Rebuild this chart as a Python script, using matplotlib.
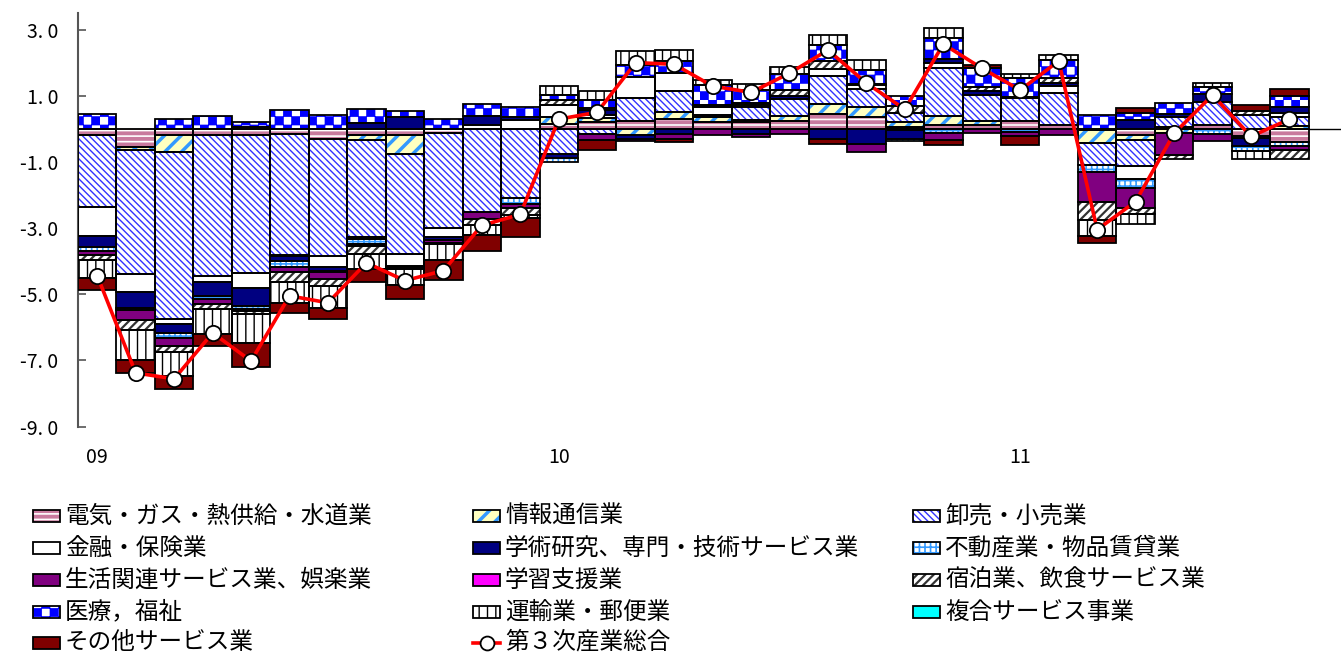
import numpy as np
import matplotlib
matplotlib.use("Agg")
import matplotlib.pyplot as plt
from matplotlib import hatch as mhatch
from matplotlib.path import Path
from matplotlib.patches import Rectangle
from matplotlib.lines import Line2D

plt.rcParams['font.family'] = ['Noto Sans CJK JP', 'DejaVu Sans']

# 2009-01 .. 2011-08, contributions (points)
months = np.arange(32)
xtick_pos = [0, 12, 24]
xtick_labels = ["09", "10", "11"]
ytick_vals = [3.0, 1.0, -1.0, -3.0, -5.0, -7.0, -9.0]

elec = [-0.18, -0.55, -0.20, -0.18, -0.18, -0.15, -0.30, -0.18, -0.20, -0.12, 0, 0,
        0.15, 0.22, 0.25, 0.30, 0.20, 0.22, 0.25, 0.45, 0.35, 0.05, 0.10, 0.10, 0.25, 0.10,
        -0.05, -0.20, 0.04, 0.10, -0.22, -0.40]
info = [0, -0.10, -0.50, 0, 0.06, 0, 0, -0.17, -0.55, 0, 0, 0,
        0.22, 0.10, -0.20, 0.20, 0.15, 0.05, 0.15, 0.30, 0.30, 0.15, 0.30, 0.15, 0, 0,
        -0.38, -0.13, -0.12, 0, 0, 0.07]
whole = [-2.19, -3.75, -5.05, -4.26, -4.18, -3.68, -3.55, -2.93, -3.03, -2.88, -2.52, -2.10,
         -0.75, -0.15, 0.69, 0.65, 0.07, 0.40, 0.50, 0.86, 0.56, 0.28, 1.45, 0.76, 0.68, 0.98,
         -0.65, -0.80, 0.32, 0.71, 0.42, 0.30]
fin = [-0.88, -0.53, -0.15, -0.18, -0.46, -0.03, -0.34, -0.05, -0.36, -0.28, 0.10, 0.27,
       0.35, 0.10, 0.63, 0.55, 0.25, 0.05, 0, 0.20, 0.10, -0.05, 0.15, 0, 0, 0.20,
       0, -0.40, 0, 0, -0.05, 0.12]
acad = [-0.33, -0.48, -0.26, -0.43, -0.53, -0.15, -0.10, 0.18, 0.35, -0.07, 0.30, 0.10,
        -0.13, 0.15, -0.10, -0.15, 0.05, -0.15, 0.10, -0.30, -0.45, -0.25, 0.10, 0.12, 0.03, 0.10,
        0, 0.26, 0.10, 0.24, -0.25, 0.18]
real = [-0.10, -0.08, -0.15, -0.10, -0.10, -0.18, -0.05, -0.15, -0.04, 0, 0, -0.18,
        -0.12, 0, 0, 0, 0, 0, 0, 0, 0, -0.08, -0.13, 0, -0.10, 0,
        -0.23, -0.25, 0, -0.15, -0.15, -0.12]
life = [-0.15, -0.28, -0.25, -0.15, -0.05, -0.14, -0.20, -0.05, -0.05, -0.10, -0.20, -0.12,
        0, -0.20, -0.08, -0.15, -0.20, -0.10, -0.17, 0, -0.24, 0, -0.20, -0.12, -0.12, -0.20,
        -0.91, -0.61, -0.68, -0.22, 0, -0.12]
edu = [0] * 32
hotel = [-0.15, -0.31, -0.20, -0.15, -0.10, -0.31, -0.20, -0.25, 0, -0.04, -0.20, -0.20,
         0.15, 0.07, 0, 0, 0, 0.05, 0.17, 0.25, 0.05, 0.20, 0, 0.13, 0, 0.16,
         -0.53, -0.20, -0.10, 0, 0.12, -0.26]
med = [0.44, 0, 0.29, 0.39, 0.14, 0.56, 0.43, 0.41, 0.20, 0.29, 0.36, 0.30,
       0.15, 0.24, 0.35, 0.35, 0.60, 0.40, 0.48, 0.47, 0.42, 0.30, 0.65, 0.58, 0.57, 0.55,
       0.42, 0.22, 0.32, 0.22, 0, 0.32]
trans = [-0.54, -0.91, -0.71, -0.76, -0.88, -0.63, -0.67, -0.46, -0.50, -0.48, -0.30, -0.10,
         0.27, 0.26, 0.42, 0.32, 0.15, 0.17, 0.22, 0.31, 0.29, 0, 0.29, 0, 0.12, 0.15,
         -0.50, -0.28, 0, 0.12, -0.25, 0]
comp = [0] * 32
other = [-0.35, -0.40, -0.40, -0.35, -0.71, -0.30, -0.33, -0.40, -0.41, -0.61, -0.46, -0.56,
         0, -0.29, 0, -0.10, 0, 0, 0, -0.15, 0, 0, -0.16, 0.10, -0.26, 0,
         -0.20, 0.16, 0, 0, 0.17, 0.20]
total = [-4.44, -7.38, -7.56, -6.17, -7.02, -5.05, -5.26, -4.05, -4.59, -4.29, -2.92, -2.59,
         0.29, 0.50, 2.00, 1.95, 1.29, 1.10, 1.68, 2.38, 1.38, 0.59, 2.56, 1.83, 1.17, 2.05,
         -3.05, -2.20, -0.14, 1.02, -0.23, 0.29]

names = ["電気・ガス・熱供給・水道業", "情報通信業", "卸売・小売業",
         "金融・保険業", "学術研究、専門・技術サービス業", "不動産業・物品賃貸業",
         "生活関連サービス業、娯楽業", "学習支援業", "宿泊業、飲食サービス業",
         "医療，福祉", "運輸業・郵便業", "複合サービス事業",
         "その他サービス業"]
total_name = "第３次産業総合"
series = [elec, info, whole, fin, acad, real, life, edu, hotel, med, trans, comp, other]

# (fond, hachure, couleur hachure, epaisseur hachure)
STYLES = [
    ("#c97a9e", "---", "white", 1.2),
    ("#ffffc0", "//", "#3399ff", 2.5),
    ("white", "\\\\\\\\\\", "#3333ff", 1.0),
    ("white", None, None, 1.0),
    ("#000080", None, None, 1.0),
    ("white", "+++", "#3399ff", 1.2),
    ("#800080", None, None, 1.0),
    ("#ff00ff", None, None, 1.0),
    ("white", "////", "#333333", 1.6),
    ("white", "**", "#0000ff", 0.5),
    ("white", "||", "black", 1.0),
    ("#00ffff", None, None, 1.0),
    ("#800000", None, None, 1.0),
]


class CheckerHatch(mhatch.HatchPatternBase):
    """'*' -> damier plein (a la place des etoiles)"""
    def __init__(self, hatch, density):
        self.n = hatch.count('*') * density
        self.num_vertices = 5 * ((self.n * self.n + 1) // 2)

    def set_vertices_and_codes(self, vertices, codes):
        step = 1.0 / self.n
        k = 0
        for i in range(self.n):
            for j in range(self.n):
                if (i + j) % 2:
                    continue
                x0, y0 = i * step, j * step
                vertices[k:k + 5] = [(x0, y0), (x0 + step, y0), (x0 + step, y0 + step),
                                     (x0, y0 + step), (x0, y0)]
                codes[k] = Path.MOVETO
                codes[k + 1:k + 4] = Path.LINETO
                codes[k + 4] = Path.CLOSEPOLY
                k += 5


mhatch._hatch_types = [t for t in mhatch._hatch_types if t is not mhatch.Stars] + [CheckerHatch]


def styled(patch, style):
    face, hatch, hcolor, hlw = style
    patch.set_facecolor(face)
    patch.set_edgecolor(hcolor if hcolor else face)
    patch.set_linewidth(0)
    if hatch:
        patch.set_hatch(hatch)
        if hasattr(patch, "set_hatch_linewidth"):
            patch.set_hatch_linewidth(hlw)


W, H = 1341, 660
fig = plt.figure(figsize=(W / 100, H / 100), dpi=100)
ax = fig.add_axes([78 / W, 1 - 426.5 / H, 1 - 78 / W, (426.5 - 13) / H])

pos_base = np.zeros(32)
neg_base = np.zeros(32)
for vals, style in zip(series, STYLES):
    v = np.array(vals, dtype=float)
    for mask, base in ((v > 0, pos_base), (v < 0, neg_base)):
        if not mask.any():
            continue
        x = months[mask]
        h = v[mask]
        b = base[mask]
        with plt.rc_context({"hatch.linewidth": style[3]}):
            bars = ax.bar(x, h, bottom=b, width=1.0, zorder=2)
        for p in bars:
            styled(p, style)
        ax.bar(x, h, bottom=b, width=1.0, fill=False, edgecolor="black",
               linewidth=1.3, zorder=3)
        base[mask] += h

ax.axhline(0, color="black", lw=1.0, zorder=1)
ax.plot(months, total, color="#ff0000", lw=2.6, marker="o", markersize=11,
        markerfacecolor="white", markeredgecolor="black", markeredgewidth=1.3, zorder=5)

ax.set_xlim(-0.5, 32.34)
ax.set_ylim(-9.0, 3.5)
for s in ("top", "right", "bottom"):
    ax.spines[s].set_visible(False)
ax.spines["left"].set_color("#555555")
ax.spines["left"].set_linewidth(1.5)
ax.set_yticks(ytick_vals)
ax.set_yticklabels([f"{v:.1f}".replace(".", ". ") for v in ytick_vals])
ax.tick_params(axis="y", direction="in", length=6, width=1.2, color="#555555",
               pad=14, labelsize=14)
ax.set_xticks(xtick_pos)
ax.set_xticklabels(xtick_labels)
ax.tick_params(axis="x", length=0, pad=15, labelsize=14)

# legende manuelle, 3 colonnes x 5 lignes (ordre ligne par ligne)
col_x = [33, 473, 913]
row_y = [516, 548, 580, 612, 642.5]
for i, (name, style) in enumerate(zip(names, STYLES)):
    r, c = divmod(i, 3)
    x0, yc = col_x[c], row_y[r]
    with plt.rc_context({"hatch.linewidth": style[3]}):
        rect = Rectangle((x0 / W, 1 - (yc + 6) / H), 27 / W, 12 / H, transform=fig.transFigure)
    styled(rect, style)
    fig.add_artist(rect)
    fig.add_artist(Rectangle((x0 / W, 1 - (yc + 6) / H), 27 / W, 12 / H,
                             transform=fig.transFigure, fill=False, edgecolor="black", lw=1.3))
    fig.text((x0 + 32) / W, 1 - yc / H, name, fontsize=17, va="center", ha="left")

r, c = divmod(len(names), 3)
x0, yc = col_x[c], row_y[r]
fig.add_artist(Line2D([x0 / W, (x0 + 27) / W], [1 - yc / H] * 2, transform=fig.transFigure,
                      color="#ff0000", lw=2.6))
fig.add_artist(Line2D([(x0 + 13.5) / W], [1 - yc / H], transform=fig.transFigure,
                      marker="o", markersize=10, markerfacecolor="white",
                      markeredgecolor="black", markeredgewidth=1.3))
fig.text((x0 + 32) / W, 1 - yc / H, total_name, fontsize=17, va="center", ha="left")

fig.savefig("out.png", dpi=100)
